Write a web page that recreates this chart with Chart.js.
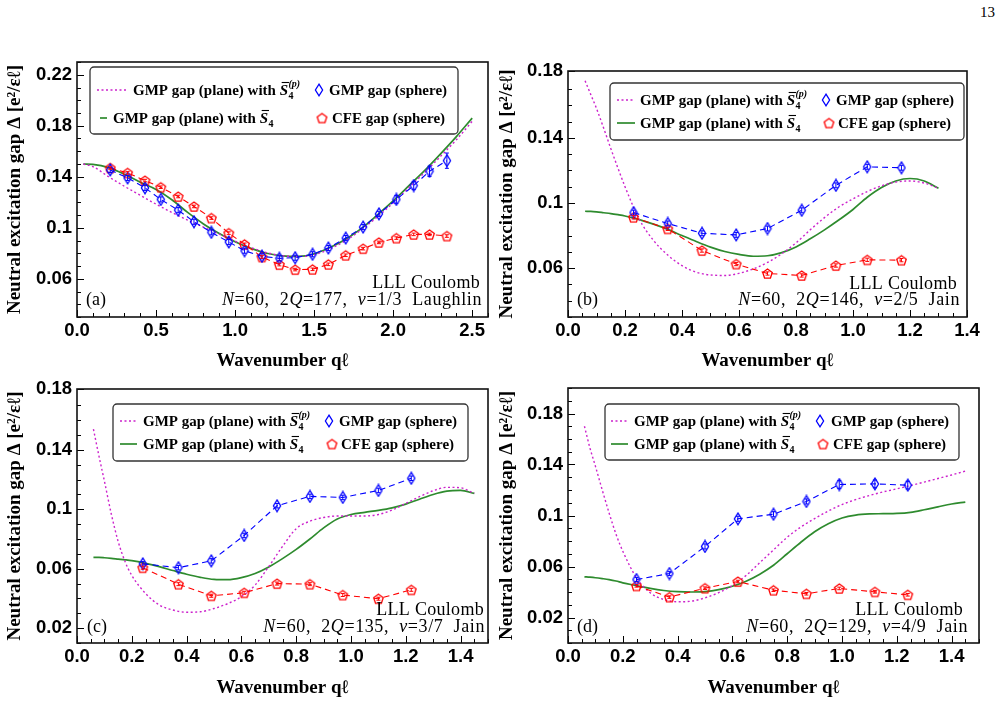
<!DOCTYPE html>
<html><head><meta charset="utf-8">
<script src="https://cdn.jsdelivr.net/npm/chart.js@4.4.1/dist/chart.umd.min.js"></script>
<style>
html,body{margin:0;padding:0;background:#fff;}
body{width:1007px;height:725px;position:relative;overflow:hidden;}
canvas{position:absolute;}
#pg{position:absolute;left:980px;top:4px;font:15px 'Liberation Serif',serif;color:#000;}
</style></head><body>
<div id="pg">13</div>
<canvas id="ca"></canvas><canvas id="cb"></canvas><canvas id="cc"></canvas><canvas id="cd"></canvas>
<script>
// ---------------- DATA ----------------
// (a) nu=1/3 Laughlin, N=60, 2Q=177
const aQ = [0.21,0.32,0.43,0.53,0.64,0.74,0.85,0.96,1.06,1.17,1.28,1.38,1.49,1.59,1.70,1.81,1.91,2.02,2.13,2.23,2.34];
const aGmpSphere = [0.1453,0.1391,0.1313,0.1222,0.1138,0.1047,0.0964,0.0888,0.0820,0.0776,0.0760,0.0765,0.0792,0.0841,0.0919,0.1005,0.1109,0.1222,0.1331,0.1443,0.1526];
const aGmpSphereErr = [0.002,0.002,0.002,0.002,0.002,0.002,0.002,0.002,0.002,0.002,0.002,0.002,0.002,0.002,0.002,0.002,0.002,0.003,0.003,0.004,0.006];
const aCfeSphere = [0.1469,0.1430,0.1370,0.1318,0.1245,0.1167,0.1076,0.0958,0.0870,0.0771,0.0711,0.0672,0.0674,0.0713,0.0784,0.0836,0.0885,0.0919,0.0948,0.0948,0.0935];
const aCfeSphereErr = [0.001,0.001,0.001,0.001,0.001,0.001,0.001,0.001,0.001,0.001,0.001,0.001,0.001,0.001,0.001,0.001,0.001,0.001,0.001,0.001,0.001];
const aCurveQ = [0.04,0.1,0.2,0.3,0.4,0.5,0.6,0.7,0.8,0.9,1.0,1.1,1.2,1.3,1.4,1.5,1.6,1.7,1.8,1.9,2.0,2.1,2.2,2.3,2.4,2.5];
const aPlaneS4p = [0.150,0.148,0.140,0.1325,0.1255,0.1185,0.1120,0.1060,0.1005,0.0950,0.0895,0.0845,0.0805,0.0780,0.0775,0.0788,0.0835,0.0900,0.0985,0.1085,0.1195,0.1315,0.1435,0.1560,0.1690,0.1835];
const aPlaneS4 = [0.150,0.1497,0.1472,0.1420,0.1357,0.1300,0.1220,0.1120,0.1030,0.0955,0.0890,0.0838,0.0800,0.0780,0.0775,0.0795,0.0845,0.0910,0.0995,0.1100,0.1210,0.1330,0.1450,0.1580,0.1715,0.1860];
const aXTickLabels = ['0.0','0.5','1.0','1.5','2.0','2.5'];
const aYTickLabels = ['0.06','0.1','0.14','0.18','0.22'];

// (b) nu=2/5 Jain, N=60, 2Q=146
const bQ = [0.23,0.35,0.47,0.59,0.70,0.82,0.94,1.05,1.17];
const bGmpSphere = [0.0941,0.0874,0.0814,0.0804,0.0843,0.0955,0.1108,0.1222,0.1216];
const bGmpSphereErr = [0.0015,0.0015,0.0015,0.0015,0.0015,0.0015,0.0015,0.0015,0.0015];
const bCfeSphere = [0.0912,0.0841,0.0708,0.0625,0.0567,0.0555,0.0616,0.0651,0.0649];
const bCfeSphereErr = [0.001,0.001,0.001,0.001,0.001,0.001,0.001,0.001,0.001];
const bCurveQ = [0.06,0.08,0.1,0.125,0.15,0.175,0.2,0.25,0.3,0.35,0.4,0.45,0.5,0.55,0.6,0.65,0.7,0.75,0.8,0.85,0.9,0.95,1.0,1.05,1.1,1.15,1.2,1.25,1.3];
const bPlaneS4p = [0.175,0.1665,0.158,0.146,0.1335,0.1215,0.110,0.090,0.077,0.068,0.0615,0.0575,0.0558,0.0555,0.0568,0.0595,0.0635,0.0688,0.0755,0.0835,0.091,0.0975,0.1025,0.107,0.1105,0.1128,0.1135,0.1122,0.109];
const bPlaneS4 = [0.0949,0.0948,0.0945,0.0940,0.0935,0.0928,0.0920,0.0898,0.0870,0.0838,0.0800,0.0763,0.0729,0.0702,0.0684,0.0673,0.0676,0.0695,0.0730,0.0780,0.0835,0.0895,0.0960,0.1035,0.1095,0.1135,0.1150,0.1135,0.109];
const bXTickLabels = ['0.0','0.2','0.4','0.6','0.8','1.0','1.2','1.4'];
const bYTickLabels = ['0.06','0.1','0.14','0.18'];

// (c) nu=3/7 Jain, N=60, 2Q=135
const cQ = [0.24,0.37,0.49,0.61,0.73,0.85,0.97,1.10,1.22];
const cGmpSphere = [0.0633,0.0607,0.0653,0.0824,0.1024,0.1087,0.1080,0.1127,0.1209];
const cGmpSphereErr = [0.0015,0.0015,0.0015,0.0015,0.0015,0.0015,0.0015,0.0015,0.0015];
const cCfeSphere = [0.0607,0.0496,0.0418,0.0438,0.0500,0.0496,0.0423,0.0398,0.0458];
const cCfeSphereErr = [0.001,0.001,0.001,0.001,0.001,0.001,0.001,0.001,0.001];
const cCurveQ = [0.06,0.08,0.1,0.125,0.15,0.175,0.2,0.25,0.3,0.35,0.4,0.45,0.5,0.55,0.6,0.65,0.7,0.75,0.8,0.85,0.9,0.95,1.0,1.05,1.1,1.15,1.2,1.25,1.3,1.35,1.4,1.45];
const cPlaneS4p = [0.154,0.136,0.119,0.097,0.0785,0.065,0.0555,0.0434,0.0356,0.0322,0.0307,0.0310,0.0332,0.0365,0.0412,0.0490,0.0615,0.0750,0.0870,0.0920,0.0945,0.0955,0.0955,0.0955,0.0965,0.0995,0.1040,0.1085,0.1125,0.1148,0.1145,0.1107];
const cPlaneS4 = [0.0676,0.0676,0.0674,0.0670,0.0665,0.0660,0.0654,0.0636,0.0614,0.0588,0.0563,0.0542,0.0528,0.0526,0.0540,0.0568,0.0612,0.0668,0.0730,0.0800,0.0875,0.0935,0.0965,0.0980,0.0993,0.1010,0.1035,0.1068,0.1100,0.1122,0.1127,0.1107];
const cXTickLabels = ['0.0','0.2','0.4','0.6','0.8','1.0','1.2','1.4'];
const cYTickLabels = ['0.02','0.06','0.1','0.14','0.18'];

// (d) nu=4/9 Jain, N=60, 2Q=129
const dQ = [0.25,0.37,0.50,0.62,0.75,0.87,0.99,1.12,1.24];
const dGmpSphere = [0.0498,0.0545,0.0757,0.0974,0.1010,0.1110,0.1243,0.1248,0.1238];
const dGmpSphereErr = [0.0015,0.0015,0.002,0.002,0.002,0.002,0.003,0.003,0.003];
const dCfeSphere = [0.0448,0.0360,0.0430,0.0482,0.0414,0.0386,0.0428,0.0401,0.0378];
const dCfeSphereErr = [0.001,0.001,0.001,0.001,0.001,0.001,0.001,0.001,0.001];
const dCurveQ = [0.06,0.08,0.1,0.125,0.15,0.175,0.2,0.25,0.3,0.35,0.4,0.45,0.5,0.55,0.6,0.65,0.7,0.75,0.8,0.85,0.9,0.95,1.0,1.05,1.1,1.15,1.2,1.25,1.3,1.35,1.4,1.45];
const dPlaneS4p = [0.170,0.153,0.1387,0.120,0.102,0.0855,0.072,0.0511,0.0394,0.0341,0.0323,0.0328,0.0354,0.0395,0.0451,0.0530,0.0630,0.0730,0.0830,0.0910,0.0975,0.1035,0.1086,0.1125,0.1157,0.1185,0.1209,0.1235,0.1262,0.1290,0.1318,0.1348];
const dPlaneS4 = [0.0519,0.0516,0.0512,0.0505,0.0497,0.0486,0.0472,0.0450,0.0428,0.0412,0.0403,0.0400,0.0403,0.0418,0.0445,0.0485,0.0540,0.0610,0.0700,0.0790,0.0872,0.0935,0.0980,0.1003,0.1012,0.1014,0.1016,0.1025,0.1045,0.1068,0.1090,0.1105];
const dXTickLabels = ['0.0','0.2','0.4','0.6','0.8','1.0','1.2','1.4'];
const dYTickLabels = ['0.02','0.06','0.1','0.14','0.18'];

// ---------------- STYLE / LAYOUT ----------------
const SERIF = "'Liberation Serif','Times New Roman',serif";
const SANS = "'Liberation Sans',Arial,sans-serif";
const BLUE = '#0000ff', RED = '#ff0000', MAG = '#cc22cc', GREEN = '#2e8b2e';

function diamondImg(color){
  const c=document.createElement('canvas'); c.width=10; c.height=14;
  const g=c.getContext('2d'); g.strokeStyle=color; g.lineWidth=1.3;
  g.beginPath(); g.moveTo(5,1.2); g.lineTo(8.6,7); g.lineTo(5,12.8); g.lineTo(1.4,7); g.closePath(); g.stroke();
  return c;
}
function pentagonImg(color){
  const c=document.createElement('canvas'); c.width=13; c.height=13;
  const g=c.getContext('2d'); g.strokeStyle=color; g.lineWidth=1.3;
  g.beginPath();
  for(let k=0;k<5;k++){const an=-Math.PI/2+k*2*Math.PI/5; const x=6.5+5*Math.cos(an), y=7+5*Math.sin(an); k?g.lineTo(x,y):g.moveTo(x,y);}
  g.closePath(); g.stroke();
  return c;
}
const DIAMOND = diamondImg(BLUE), PENTA = pentagonImg(RED);

function pts(xs, ys){ return xs.map((x,i)=>({x:x, y:ys[i]})); }

function drawS4(ctx, x, base, withP){
  ctx.font = `italic bold 15px ${SERIF}`;
  const sw = ctx.measureText('S').width;
  ctx.fillText('S', x, base);
  ctx.save(); ctx.lineWidth=1.1; ctx.strokeStyle='#000';
  ctx.beginPath(); ctx.moveTo(x+2, base-12.5); ctx.lineTo(x+sw+1, base-12.5); ctx.stroke(); ctx.restore();
  x += sw + 0.5;
  ctx.font = `bold 10px ${SERIF}`;
  ctx.fillText('4', x, base+3.5);
  let w = ctx.measureText('4').width;
  if(withP){ ctx.font = `italic bold 10px ${SERIF}`; ctx.fillText('(p)', x, base-8); w=Math.max(w, ctx.measureText('(p)').width); }
  return x + w;
}
function richWidth(ctx, segs){ let w=0; for(const s of segs){ ctx.font=s.f; w+=ctx.measureText(s.t).width; } return w; }
function drawRich(ctx, x, base, segs){ for(const s of segs){ ctx.font=s.f; ctx.fillText(s.t, x, base); x+=ctx.measureText(s.t).width; } return x; }

function makePlugin(p){
  return {
    id:'panelDeco',
    afterDatasetsDraw(chart){
      const ctx=chart.ctx, xs=chart.scales.x, ys=chart.scales.y;
      chart.data.datasets.forEach(ds=>{
        if(!ds.errors) return;
        ctx.save(); ctx.strokeStyle=ds.borderColor; ctx.lineWidth=1;
        ds.data.forEach((pt,j)=>{
          const e=ds.errors[j]; if(!e) return;
          const px=xs.getPixelForValue(pt.x), y1=ys.getPixelForValue(pt.y-e), y2=ys.getPixelForValue(pt.y+e);
          ctx.beginPath(); ctx.moveTo(px,y1); ctx.lineTo(px,y2);
          ctx.moveTo(px-2,y1); ctx.lineTo(px+2,y1); ctx.moveTo(px-2,y2); ctx.lineTo(px+2,y2); ctx.stroke();
        });
        ctx.restore();
      });
    },
    afterDraw(chart){
      const ctx=chart.ctx, a=chart.chartArea, xs=chart.scales.x, ys=chart.scales.y;
      const ox=p.left, oy=p.top;
      ctx.save();
      ctx.strokeStyle='#000'; ctx.lineWidth=1;
      xs.ticks.forEach(t=>{
        const px=Math.round(xs.getPixelForValue(t.value))+0.5; const L=t.label? 7:4;
        ctx.beginPath(); ctx.moveTo(px,a.bottom); ctx.lineTo(px,a.bottom-L); ctx.stroke();
      });
      ys.ticks.forEach(t=>{
        const py=Math.round(ys.getPixelForValue(t.value))+0.5; const L=t.label? 7:4;
        ctx.beginPath(); ctx.moveTo(a.left,py); ctx.lineTo(a.left+L,py); ctx.stroke();
      });
      ctx.lineWidth=1.6; ctx.strokeStyle='#111';
      ctx.strokeRect(a.left, a.top, a.right-a.left, a.bottom-a.top);
      const lg=p.legend;
      const bx=lg.box[0]-ox, by=lg.box[1]-oy, bw=lg.box[2]-lg.box[0], bh=lg.box[3]-lg.box[1];
      ctx.fillStyle='#fff'; ctx.strokeStyle='#333'; ctx.lineWidth=1.3;
      ctx.beginPath(); ctx.roundRect(bx, by, bw, bh, 4); ctx.fill(); ctx.stroke();
      const r1=lg.rows[0]-oy, r2=lg.rows[1]-oy;
      ctx.textBaseline='alphabetic'; ctx.textAlign='left'; ctx.fillStyle='#000';
      ctx.strokeStyle=MAG; ctx.lineWidth=1.4; ctx.setLineDash([2,2.5]);
      ctx.beginPath(); ctx.moveTo(lg.s1[0]-ox, r1); ctx.lineTo(lg.s1[1]-ox, r1); ctx.stroke();
      ctx.setLineDash([]);
      ctx.fillStyle='#000';
      let x = drawRich(ctx, lg.t1-ox, r1+5, [{t:'GMP gap (plane) with ', f:`bold 15px ${SERIF}`}]);
      drawS4(ctx, x, r1+5, true);
      ctx.strokeStyle=GREEN; ctx.lineWidth=1.7;
      ctx.beginPath(); ctx.moveTo(lg.s2[0]-ox, r2); ctx.lineTo(lg.s2[1]-ox, r2); ctx.stroke();
      x = drawRich(ctx, lg.t2-ox, r2+5, [{t:'GMP gap (plane) with ', f:`bold 15px ${SERIF}`}]);
      drawS4(ctx, x, r2+5, false);
      ctx.drawImage(DIAMOND, lg.m1-ox-DIAMOND.width/2, r1-DIAMOND.height/2);
      drawRich(ctx, lg.u1-ox, r1+5, [{t:'GMP gap (sphere)', f:`bold 15px ${SERIF}`}]);
      ctx.drawImage(PENTA, lg.m2-ox-PENTA.width/2, r2-PENTA.height/2);
      drawRich(ctx, lg.u2-ox, r2+5, [{t:'CFE gap (sphere)', f:`bold 15px ${SERIF}`}]);
      const F=`18px ${SERIF}`, FI=`italic 18px ${SERIF}`;
      ctx.font=F; ctx.textAlign='right'; ctx.letterSpacing='0.3px';
      ctx.fillText('LLL Coulomb', p.n1[0]-ox, p.n1[1]-oy+6);
      ctx.textAlign='left'; ctx.letterSpacing='0.6px';
      const segs=[{t:'N',f:FI},{t:'=60,  2',f:F},{t:'Q',f:FI},{t:'='+p.twoQ+',  ',f:F},{t:'ν',f:FI},{t:'='+p.nu+'  '+p.state,f:F}];
      const w=richWidth(ctx,segs);
      drawRich(ctx, p.n2[0]-ox-w, p.n2[1]-oy+6, segs);
      ctx.letterSpacing='0px';
      ctx.font=F; ctx.fillText(p.tag, p.n3[0]-ox, p.n3[1]-oy+6);
      ctx.restore();
    }
  };
}

function isMultiple(v, step){ const r=v/step; return Math.abs(r-Math.round(r))<1e-6; }

function panel(p){
  const cv=document.getElementById(p.id);
  cv.width=p.w; cv.height=p.h;
  cv.style.left=p.left+'px'; cv.style.top=p.top+'px'; cv.style.width=p.w+'px'; cv.style.height=p.h+'px';
  const Wy=p.area.l-p.left, R=p.left+p.w-p.area.r, T=p.area.t-p.top, Hx=p.top+p.h-p.area.b;
  const tickFont={family:SANS, weight:'bold', size:18.5, lineHeight:1.2};
  const titleFont={family:SERIF, weight:'bold', size:19, lineHeight:1.2};
  new Chart(cv,{
    type:'scatter',
    data:{datasets:[
      {label:'GMP gap (sphere)', data:pts(p.q,p.gmp), errors:p.gmpErr, showLine:true, borderColor:BLUE, backgroundColor:BLUE, borderWidth:1.1, borderDash:[6,4], pointStyle:DIAMOND, pointRadius:5, pointHoverRadius:5},
      {label:'CFE gap (sphere)', data:pts(p.q,p.cfe), errors:p.cfeErr, showLine:true, borderColor:RED, backgroundColor:RED, borderWidth:1.1, borderDash:[6,4], pointStyle:PENTA, pointRadius:5, pointHoverRadius:5},
      {label:'GMP gap (plane) with S4(p)', data:pts(p.cq,p.s4p), showLine:true, borderColor:MAG, borderWidth:1.4, borderDash:[2,2.5], pointRadius:0, cubicInterpolationMode:'monotone'},
      {label:'GMP gap (plane) with S4', data:pts(p.cq,p.s4), showLine:true, borderColor:GREEN, borderWidth:1.7, pointRadius:0, cubicInterpolationMode:'monotone'}
    ]},
    options:{
      responsive:false, animation:false, devicePixelRatio:1,
      layout:{padding:{left:0, top:T, right:R, bottom:0}},
      plugins:{legend:{display:false}, tooltip:{enabled:false}},
      scales:{
        x:{type:'linear', min:0, max:p.xMax,
          ticks:{stepSize:p.xStep, autoSkip:false, maxRotation:0, minRotation:0, padding:3, color:'#000', font:tickFont,
            callback:(v)=>{ if(!isMultiple(+v, p.xMajor)) return ''; const s=(+v).toFixed(1); return p.xLabels.includes(s)? s : '';}},
          grid:{display:false, drawTicks:false}, border:{display:false},
          title:{display:true, text:'Wavenumber qℓ', color:'#000', font:titleFont, padding:{top:0,bottom:p.xTitlePad}},
          afterFit:(s)=>{s.height=Hx;}},
        y:{type:'linear', min:p.yMin, max:p.yMax,
          ticks:{stepSize:0.01, autoSkip:false, padding:5, color:'#000', font:tickFont,
            callback:(v)=>{const s=String(+(+v).toFixed(2)); return p.yLabels.includes(s)? s : '';}},
          grid:{display:false, drawTicks:false}, border:{display:false},
          title:{display:true, text:'Neutral excitation gap Δ [e²/εℓ]', color:'#000', font:titleFont, padding:{top:p.yTitlePad,bottom:0}},
          afterFit:(s)=>{s.width=Wy;}}
      }
    },
    plugins:[makePlugin(p)]
  });
}

panel({id:'ca', left:0, top:40, w:495, h:335, area:{l:77,r:488,t:62,b:317},
  xMax:2.6, xStep:0.1, xMajor:0.5, yMin:0.03, yMax:0.23, xLabels:aXTickLabels, yLabels:aYTickLabels, xTitlePad:2.6, yTitlePad:3.6,
  q:aQ, gmp:aGmpSphere, gmpErr:aGmpSphereErr, cfe:aCfeSphere, cfeErr:aCfeSphereErr, cq:aCurveQ, s4p:aPlaneS4p, s4:aPlaneS4,
  legend:{box:[90,67,458,134], rows:[90,118], s1:[97,128], t1:133, s2:[100,107], t2:113, m1:319, u1:329, m2:322, u2:332},
  n1:[480,282], n2:[482,299], n3:[86,299], tag:'(a)', twoQ:'177', nu:'1/3', state:'Laughlin'});

panel({id:'cb', left:495, top:40, w:512, h:335, area:{l:568,r:967,t:71,b:317},
  xMax:1.4, xStep:0.05, xMajor:0.2, yMin:0.03, yMax:0.181, xLabels:bXTickLabels, yLabels:bYTickLabels, xTitlePad:2.6, yTitlePad:0.6,
  q:bQ, gmp:bGmpSphere, gmpErr:bGmpSphereErr, cfe:bCfeSphere, cfeErr:bCfeSphereErr, cq:bCurveQ, s4p:bPlaneS4p, s4:bPlaneS4,
  legend:{box:[610,83,964,140], rows:[100,123], s1:[617,635], t1:640, s2:[617,635], t2:640, m1:826, u1:836, m2:829, u2:838},
  n1:[957,283], n2:[960,299], n3:[577,299], tag:'(b)', twoQ:'146', nu:'2/5', state:'Jain'});

panel({id:'cc', left:0, top:370, w:495, h:340, area:{l:77,r:488,t:389,b:643},
  xMax:1.5, xStep:0.05, xMajor:0.2, yMin:0.01, yMax:0.181, xLabels:cXTickLabels, yLabels:cYTickLabels, xTitlePad:10.6, yTitlePad:3.6,
  q:cQ, gmp:cGmpSphere, gmpErr:cGmpSphereErr, cfe:cCfeSphere, cfeErr:cCfeSphereErr, cq:cCurveQ, s4p:cPlaneS4p, s4:cPlaneS4,
  legend:{box:[113,404,468,461], rows:[421,444], s1:[120,137], t1:143, s2:[120,137], t2:143, m1:329, u1:339, m2:332, u2:341},
  n1:[484,609], n2:[485,626], n3:[87,626], tag:'(c)', twoQ:'135', nu:'3/7', state:'Jain'});

panel({id:'cd', left:495, top:370, w:512, h:340, area:{l:568,r:979,t:388,b:643},
  xMax:1.5, xStep:0.05, xMajor:0.2, yMin:0.0, yMax:0.2, xLabels:dXTickLabels, yLabels:dYTickLabels, xTitlePad:10.6, yTitlePad:0.6,
  q:dQ, gmp:dGmpSphere, gmpErr:dGmpSphereErr, cfe:dCfeSphere, cfeErr:dCfeSphereErr, cq:dCurveQ, s4p:dPlaneS4p, s4:dPlaneS4,
  legend:{box:[605,404,959,460], rows:[421,444], s1:[611,628], t1:634, s2:[611,628], t2:634, m1:820, u1:831, m2:823, u2:833},
  n1:[963,609], n2:[968,626], n3:[577,626], tag:'(d)', twoQ:'129', nu:'4/9', state:'Jain'});
</script>
</body></html>
